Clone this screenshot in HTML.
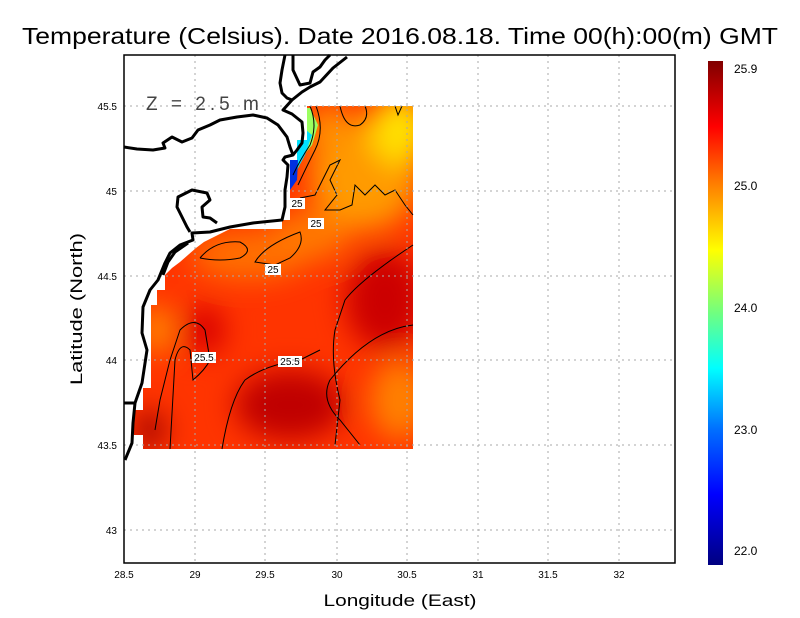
<!DOCTYPE html>
<html><head><meta charset="utf-8"><style>
body{margin:0;background:#fff;}
svg{display:block;font-family:"Liberation Sans",sans-serif;}
</style></head><body>
<svg width="800" height="618" viewBox="0 0 800 618" xmlns="http://www.w3.org/2000/svg">
<defs>
<linearGradient id="cb" x1="0" y1="0" x2="0" y2="1">
<stop offset="0" stop-color="#800000"/>
<stop offset="0.13" stop-color="#ff0000"/>
<stop offset="0.24" stop-color="#ff7a00"/>
<stop offset="0.375" stop-color="#ffff00"/>
<stop offset="0.5" stop-color="#70ff80"/>
<stop offset="0.61" stop-color="#00ffff"/>
<stop offset="0.73" stop-color="#0070ff"/>
<stop offset="0.86" stop-color="#0000ff"/>
<stop offset="1" stop-color="#000080"/>
</linearGradient>
<clipPath id="dc"><path d="M307,106 L413,106 L413,449 L143,449 L143,435 L134,435 L134,410 L143,410 L143,388 L151,388 L151,305 L157,305 L157,290 L165,290 L165,275 L172,268 L180,262 L188,255 L196,248 L204,242 L212,238 L222,233 L230,229 L282,229 L282,220 L290,220 L290,160 L297,160 L297,140 L307,140 Z"/></clipPath>
<filter id="bl" x="-50%" y="-50%" width="200%" height="200%"><feGaussianBlur stdDeviation="14"/></filter>
</defs>
<g clip-path="url(#dc)">
<rect x="120" y="100" width="300" height="360" fill="#ff3400"/>
<g filter="url(#bl)">
<ellipse cx="365" cy="175" rx="55" ry="55" fill="#ff9a00"/>
<ellipse cx="400" cy="130" rx="30" ry="35" fill="#ffe000"/>
<ellipse cx="330" cy="130" rx="25" ry="25" fill="#ff9000"/>
<ellipse cx="250" cy="255" rx="60" ry="25" fill="#ff7000"/>
<ellipse cx="310" cy="235" rx="40" ry="25" fill="#ff7800"/>
<ellipse cx="385" cy="300" rx="40" ry="50" fill="#cc0000"/>
<ellipse cx="290" cy="405" rx="55" ry="35" fill="#c00000"/>
<ellipse cx="400" cy="400" rx="30" ry="40" fill="#ff8000"/>
<ellipse cx="205" cy="330" rx="20" ry="25" fill="#d80000"/>
<ellipse cx="150" cy="430" rx="15" ry="20" fill="#a00000"/>
<ellipse cx="157" cy="330" rx="8" ry="25" fill="#ffd000"/>
</g>
<path d="M297,108 L310,108 L318,125 L312,145 L300,160 L293,170 Z" fill="#9bff60"/>
<path d="M300,125 L312,135 L305,155 L297,170 L293,165 Z" fill="#00e0ff"/>
<path d="M290,160 L298,160 L297,180 L290,190 Z" fill="#0030e0"/>
</g>
<!-- contours -->
<g fill="none" stroke="#000" stroke-width="1">
<path d="M310,106 Q318,125 310,145 Q300,160 293,175"/>
<path d="M316,106 Q325,130 315,150 Q305,170 298,185"/>
<path d="M340,106 Q345,130 360,125 Q370,118 365,106"/>
<path d="M395,106 L398,115 L402,106"/>
<path d="M300,198 L315,195 L330,165 L340,160 L330,180 L337,195 L325,210 L340,210 L352,205 L355,185 L365,195 L375,185 L385,195 L395,190 L405,205 L413,215"/>
<path d="M200,258 Q215,240 240,242 Q255,250 240,258 Q220,262 200,258"/>
<path d="M255,262 Q265,245 300,232 Q305,245 290,258 L275,265 Z"/>
<path d="M335,445 L340,400 Q330,360 335,330 L345,300 Q360,280 413,245"/>
<path d="M413,325 Q370,330 330,380 Q320,400 340,420 L360,445"/>
<path d="M170,449 L175,360 Q180,340 190,350 L193,380 Q205,370 210,360 L205,330 Q195,315 180,330 L170,360 L160,400 L155,430"/>
<path d="M222,449 Q230,400 245,380 Q265,365 300,360 L320,350"/>
</g>
<g font-size="10" text-anchor="middle">
<rect x="289" y="198" width="16" height="11" fill="#fff"/><text x="297" y="207">25</text>
<rect x="308" y="218" width="16" height="11" fill="#fff"/><text x="316" y="227">25</text>
<rect x="265" y="264" width="16" height="11" fill="#fff"/><text x="273" y="273">25</text>
<rect x="192" y="352" width="24" height="11" fill="#fff"/><text x="204" y="361">25.5</text>
<rect x="278" y="356" width="24" height="11" fill="#fff"/><text x="290" y="365">25.5</text>
</g>
<!-- grid -->
<g stroke="#aaa" stroke-width="1" stroke-dasharray="2,4">
<path d="M195,55V563M265,55V563M337,55V563M407,55V563M478,55V563M548,55V563M619,55V563"/>
<path d="M124,106H675M124,191H675M124,276H675M124,360H675M124,445H675M124,530H675"/>
</g>
<!-- coast -->
<g fill="none" stroke="#000" stroke-width="3" stroke-linejoin="round">
<path d="M124,147 L137,149 L153,150 L165,148 L163,143 L172,137 L182,142 L192,138 L198,130 L210,125 L220,120 L237,117 L253,115 L267,118 L278,125 L287,137 L290,147 L293,155 L285,157 L283,160 L288,165 L287,177 L285,190 L285,207 L282,220 L253,223 L230,227 L210,232 L192,233 L193,240 L180,245 L170,253 L165,263 L158,280 L150,290 L143,307 L142,333 L147,350 L142,383 L135,403 L133,423 L132,443 L125,460"/>
<path d="M293,155 L297,150 L302,143 L303,133 L302,122 L292,114 L283,110 L292,100 L302,92 L310,87 L320,82 L333,68 L347,57"/>
<path d="M285,55 L282,70 L280,83 L282,93 L287,98 L292,100"/>
<path d="M293,55 L293,70 L300,85 L310,83 L313,72 L320,67 L325,60 L330,55"/>
<path d="M190,232 L187,227 L182,217 L177,207 L178,197 L192,190 L207,193 L210,200 L202,207 L203,217 L210,218 L217,223"/>
<path d="M188,243 L175,252 L168,262 L163,275"/>
<path d="M124,403 L135,403"/>
</g>
<!-- frame -->
<rect x="124" y="55" width="551" height="508" fill="none" stroke="#000" stroke-width="1.5"/>
<text x="146" y="110" font-size="19" fill="#444" letter-spacing="4">Z = 2.5 m</text>
<!-- ticks -->
<g font-size="10" text-anchor="middle">
<text x="124" y="578">28.5</text><text x="195" y="578">29</text><text x="265" y="578">29.5</text><text x="337" y="578">30</text><text x="407" y="578">30.5</text><text x="478" y="578">31</text><text x="548" y="578">31.5</text><text x="619" y="578">32</text>
</g>
<g font-size="10" text-anchor="end">
<text x="117" y="110">45.5</text><text x="117" y="195">45</text><text x="117" y="280">44.5</text><text x="117" y="364">44</text><text x="117" y="449">43.5</text><text x="117" y="534">43</text>
</g>
<text x="400" y="606" font-size="17" text-anchor="middle" textLength="153" lengthAdjust="spacingAndGlyphs">Longitude (East)</text>
<text x="82" y="309" font-size="17" text-anchor="middle" transform="rotate(-90 82 309)" textLength="152" lengthAdjust="spacingAndGlyphs">Latitude (North)</text>
<text x="22" y="44" font-size="23" textLength="756" lengthAdjust="spacingAndGlyphs">Temperature (Celsius). Date 2016.08.18. Time 00(h):00(m)  GMT</text>
<!-- colorbar -->
<rect x="708" y="61" width="15" height="504" fill="url(#cb)"/>
<g font-size="12">
<text x="734" y="73">25.9</text><text x="734" y="190">25.0</text><text x="734" y="312">24.0</text><text x="734" y="434">23.0</text><text x="734" y="555">22.0</text>
</g>
</svg>
</body></html>
